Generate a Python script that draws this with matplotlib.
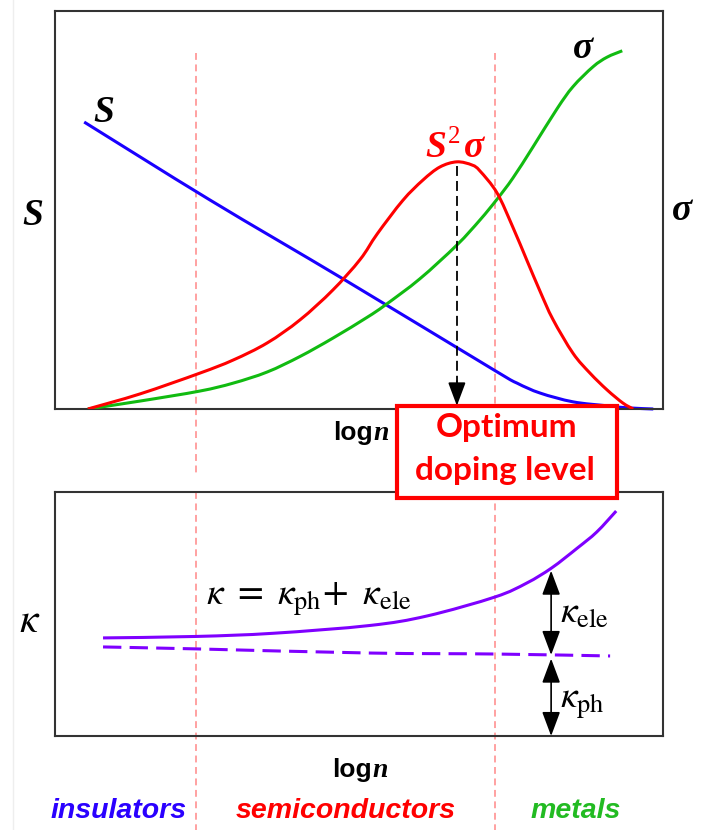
import numpy as np
import matplotlib.pyplot as plt
from matplotlib.patches import Rectangle, PathPatch
from matplotlib.path import Path
from matplotlib.lines import Line2D
from matplotlib.transforms import blended_transform_factory

plt.rcParams['mathtext.fontset'] = 'stix'

# log n on a 0-10 scale, curves in arbitrary units (0-10)
s_x = [0.48, 2.55, 4.77, 7.22, 7.60, 7.98, 8.52, 9.08, 9.41, 9.84]
s_y = [7.21, 5.25, 3.24, 0.98, 0.65, 0.40, 0.18, 0.08, 0.03, 0.0]

pf_x = [0.54, 1.40, 2.38, 2.93, 3.49, 4.03, 4.57, 5.02, 5.30, 5.72, 6.05,
        6.33, 6.61, 6.86, 6.99, 7.27, 7.53, 7.76, 7.98, 8.19, 8.52, 8.80, 9.08,
        9.34, 9.51]
pf_y = [0.0, 0.38, 0.90, 1.23, 1.66, 2.24, 2.99, 3.76, 4.40, 5.24, 5.75,
        6.08, 6.21, 6.13, 5.98, 5.43, 4.57, 3.74, 2.95, 2.25, 1.40, 0.90, 0.48,
        0.15, 0.0]

sig_x = [0.54, 1.40, 2.38, 2.93, 3.49, 4.03, 4.57, 5.13, 5.43, 6.00, 6.61, 6.99,
         7.27, 7.53, 7.86, 8.26, 8.52, 8.85, 9.08, 9.33]
sig_y = [0.0, 0.20, 0.45, 0.65, 0.93, 1.32, 1.78, 2.30, 2.61, 3.27, 4.12, 4.75,
         5.27, 5.80, 6.58, 7.55, 8.10, 8.60, 8.84, 9.00]

k_x = [0.79, 2.32, 3.59, 5.18, 6.12, 7.24, 7.76, 8.17, 8.59, 8.91, 9.23]
k_y = [4.02, 4.08, 4.21, 4.53, 4.92, 5.70, 6.27, 6.89, 7.70, 8.36, 9.22]

kph_x = [0.79, 2.32, 5.18, 7.24, 9.13]
kph_y = [3.65, 3.57, 3.40, 3.36, 3.28]

boundaries = [2.32, 7.24]
opt_x = 6.61
arrow_x = 8.16

regions = ['insulators', 'semiconductors', 'metals']
region_cols = ['#2a00ff', '#ff0000', '#22bb22']

W, H = 708, 830
fig = plt.figure(figsize=(W / 100, H / 100), dpi=100)


def ftext(x, y, s, **kw):
    return fig.text(x / W, 1 - y / H, s, **kw)


def curve(ax, x, y, **kw):
    # smooth Bezier path through the read points (Catmull-Rom)
    p = np.column_stack([x, y]).astype(float)
    verts, codes = [p[0]], [Path.MOVETO]
    for i in range(len(p) - 1):
        p0 = p[i - 1] if i > 0 else p[i]
        p3 = p[i + 2] if i + 2 < len(p) else p[i + 1]
        verts += [p[i] + (p[i + 1] - p0) / 6, p[i + 1] - (p3 - p[i]) / 6, p[i + 1]]
        codes += [Path.CURVE4] * 3
    patch = PathPatch(Path(verts, codes), fill=False, capstyle='butt', **kw)
    ax.add_patch(patch)
    return patch


ax1 = fig.add_axes([55 / W, 1 - 409 / H, 608 / W, 398 / H])
ax2 = fig.add_axes([55 / W, 1 - 736 / H, 608 / W, 244 / H])
for ax in (ax1, ax2):
    ax.set_xlim(0, 10)
    ax.set_ylim(0, 10)
    ax.set_xticks([])
    ax.set_yticks([])
    ax.set_facecolor('none')
    for sp in ax.spines.values():
        sp.set_color('#333333')
        sp.set_linewidth(1.5)

# top panel curves
curve(ax1, s_x, s_y, edgecolor='#1a00ff', lw=2.2, zorder=2, clip_on=False)
curve(ax1, sig_x, sig_y, edgecolor='#11bb11', lw=2.2, zorder=3)
curve(ax1, pf_x, pf_y, edgecolor='#ff0000', lw=2.2, zorder=4)

peak = np.interp(opt_x, pf_x, pf_y)
ax1.plot([opt_x, opt_x], [peak - 0.1, 0.6], color='k', lw=1.3,
         dashes=(5.5, 2.8), zorder=5)
ax1.annotate('', xy=(opt_x, 0.08), xytext=(opt_x, 0.7),
             arrowprops=dict(arrowstyle='-|>,head_length=0.8,head_width=0.3',
                             color='k', lw=1.3, mutation_scale=18,
                             shrinkA=0, shrinkB=0), zorder=5)

# bottom panel curves
curve(ax2, k_x, k_y, edgecolor='#7f00ff', lw=2.2, zorder=3)
curve(ax2, kph_x, kph_y, edgecolor='#7f00ff', lw=2.2, zorder=3,
      linestyle=(0, (6, 2.7)))

k_top = np.interp(arrow_x, k_x, k_y)
k_mid = np.interp(arrow_x, kph_x, kph_y)
astyle = dict(arrowstyle='<|-|>,head_length=0.75,head_width=0.28', color='k',
              lw=1.2, mutation_scale=20, shrinkA=0, shrinkB=0)
ax2.annotate('', xy=(arrow_x, k_top - 0.1), xytext=(arrow_x, k_mid),
             arrowprops=astyle)
ax2.annotate('', xy=(arrow_x, k_mid - 0.15), xytext=(arrow_x, 0),
             arrowprops=astyle)

# region boundaries spanning the whole figure, behind the panels
tr = blended_transform_factory(ax1.transData, fig.transFigure)
for b in boundaries:
    for y0, y1 in [(53, 473), (492, 830)]:
        fig.add_artist(Line2D([b, b], [1 - y0 / H, 1 - y1 / H], transform=tr,
                              color='#ff8888', lw=1.1, dashes=(4.5, 3),
                              zorder=-1))

# faint left rule
fig.add_artist(Line2D([13 / W, 13 / W], [0, 1], color='#eeeeee', lw=1,
                      zorder=-1))

# optimum box
fig.add_artist(Rectangle((397 / W, 1 - 498 / H), 220 / W, 92 / H,
                         transform=fig.transFigure, facecolor='white',
                         edgecolor='#ff0000', lw=3, zorder=10))
ftext(507, 437, 'Optimum', ha='center', va='baseline', color='#ff0000',
      family='Lato', weight='bold', size=24, zorder=11)
ftext(505, 480, 'doping level', ha='center', va='baseline', color='#ff0000',
      family='Lato', weight='bold', size=24, zorder=11)

# labels
serif_bi = dict(family='Liberation Serif', weight='bold', style='italic',
                size=27, va='baseline')
ftext(93, 122, 'S', ha='left', **serif_bi)
ftext(22, 225, 'S', ha='left', **serif_bi)
ftext(573, 58, 'σ', ha='left', **serif_bi)
ftext(672, 220, 'σ', ha='left', **serif_bi)
ftext(425, 157, 'S', ha='left', color='#ff0000', **serif_bi)
ftext(448, 143, '2', ha='left', va='baseline', color='#ff0000',
      family='Liberation Serif', size=18)
ftext(464, 157, 'σ', ha='left', color='#ff0000', **serif_bi)

for xl, yl in [(373, 440), (372, 777)]:
    ftext(xl, yl, 'log', ha='right', va='baseline', family='Liberation Sans',
          weight='bold', size=19)
    ftext(xl, yl, 'n', ha='left', va='baseline', family='Liberation Serif',
          weight='bold', style='italic', size=20)

ftext(206, 605, r'$\kappa\ =\ \kappa_{\rm ph}\!+\ \kappa_{\rm ele}$',
      ha='left', va='baseline', size=27)
ftext(560, 623, r'$\kappa_{\rm ele}$', ha='left', va='baseline', size=27)
ftext(560, 708, r'$\kappa_{\rm ph}$', ha='left', va='baseline', size=27)
ftext(19, 632, r'$\kappa$', ha='left', va='baseline', size=30)

for name, col, xc in zip(regions, region_cols, [119, 346, 576]):
    ftext(xc, 818, name, ha='center', va='baseline', color=col,
          family='Liberation Sans', weight='bold', style='italic', size=20.5)

fig.savefig('out.png', dpi=100)
